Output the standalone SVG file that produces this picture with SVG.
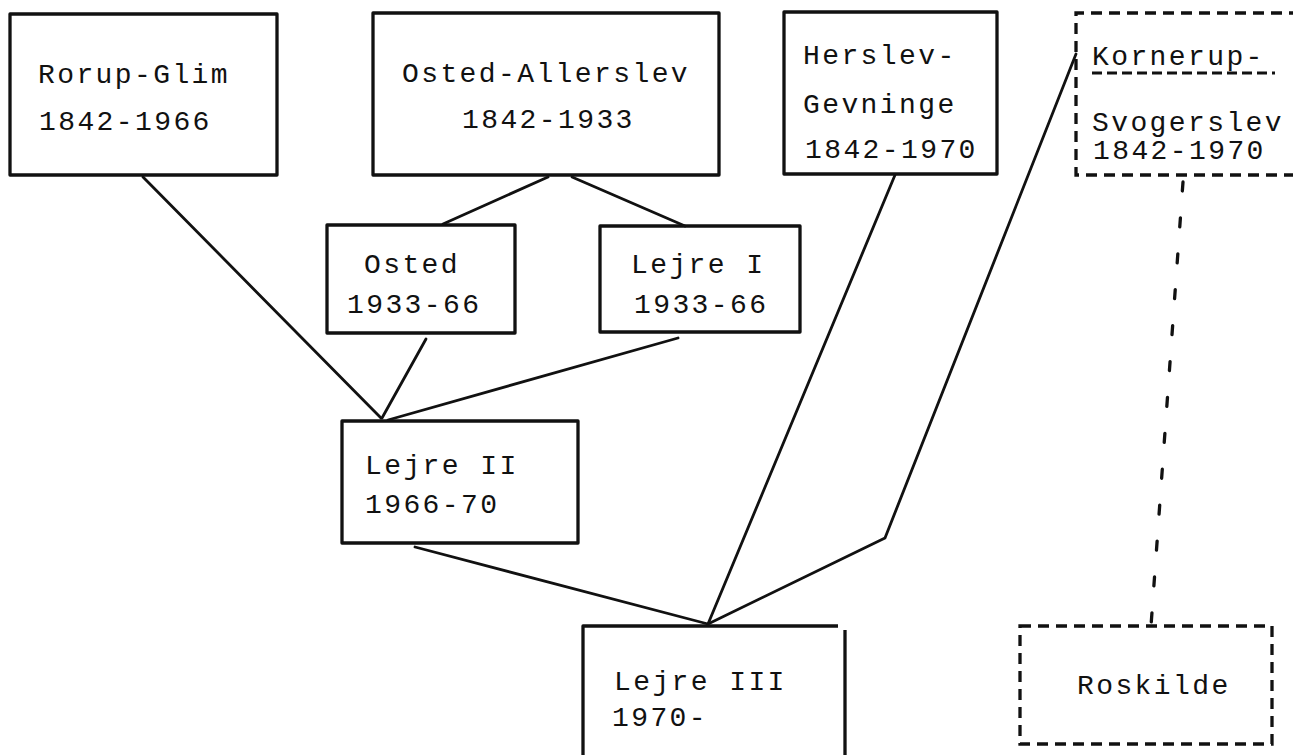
<svg xmlns="http://www.w3.org/2000/svg" width="1293" height="755" viewBox="0 0 1293 755">
<style>
text{font-family:"Liberation Mono","DejaVu Sans Mono",monospace;font-size:28px;letter-spacing:2.4px;fill:#111}
.box{fill:none;stroke:#111;stroke-width:3.3;stroke-linejoin:round}
.dbox{fill:none;stroke:#111;stroke-width:3.3;stroke-dasharray:11 7}
.ln{fill:none;stroke:#111;stroke-width:2.8;stroke-linecap:round;stroke-linejoin:round}
.dl{fill:none;stroke:#111;stroke-width:3.3;stroke-dasharray:9 27;stroke-linecap:round}
</style>
<rect width="1293" height="755" fill="#fff"/>
<g id="connectors">
<path class="ln" d="M143 177 L381 418"/>
<path class="ln" d="M548 177 L443 224"/>
<path class="ln" d="M572 177 L685 226"/>
<path class="ln" d="M426 339 L382 418"/>
<path class="ln" d="M678 338 L388 420"/>
<path class="ln" d="M415 547 L708 624"/>
<path class="ln" d="M895 175 L708 624"/>
<path class="ln" d="M1076 54 L885 538 L708 624"/>
<path class="dl" d="M1183 182 L1151 626"/>
</g>
<g id="rorup-glim">
<rect class="box" x="10" y="14" width="267" height="161"/>
<text x="38" y="83">Rorup-Glim</text>
<text x="39" y="130">1842-1966</text>
</g>
<g id="osted-allerslev">
<rect class="box" x="373" y="13" width="346" height="162"/>
<text x="402" y="82">Osted-Allerslev</text>
<text x="462" y="128">1842-1933</text>
</g>
<g id="herslev-gevninge">
<rect class="box" x="784" y="12" width="213" height="162"/>
<text x="803" y="64">Herslev-</text>
<text x="803" y="113">Gevninge</text>
<text x="805" y="158">1842-1970</text>
</g>
<g id="kornerup-svogerslev">
<path class="dbox" d="M1300 13 L1076 13 L1076 175 L1300 175"/>
<text x="1092" y="65">Kornerup-</text>
<line x1="1092" y1="73" x2="1275" y2="73" stroke="#111" stroke-width="2.8" stroke-dasharray="10 5"/>
<text x="1092" y="131">Svogerslev</text>
<text x="1093" y="159">1842-1970</text>
</g>
<g id="osted">
<rect class="box" x="327" y="225" width="188" height="108"/>
<text x="364" y="273">Osted</text>
<text x="347" y="313">1933-66</text>
</g>
<g id="lejre-i">
<rect class="box" x="600" y="226" width="200" height="106"/>
<text x="631" y="273">Lejre I</text>
<text x="634" y="313">1933-66</text>
</g>
<g id="lejre-ii">
<rect class="box" x="342" y="421" width="236" height="122"/>
<text x="365" y="474">Lejre II</text>
<text x="365" y="513">1966-70</text>
</g>
<g id="lejre-iii">
<path class="box" d="M583 760 L583 626 L838 626 M845 630 L845 760"/>
<text x="614" y="690">Lejre III</text>
<text x="612" y="726">1970-</text>
</g>
<g id="roskilde">
<rect class="dbox" x="1020" y="626" width="252" height="118"/>
<text x="1077" y="694">Roskilde</text>
</g>
</svg>
